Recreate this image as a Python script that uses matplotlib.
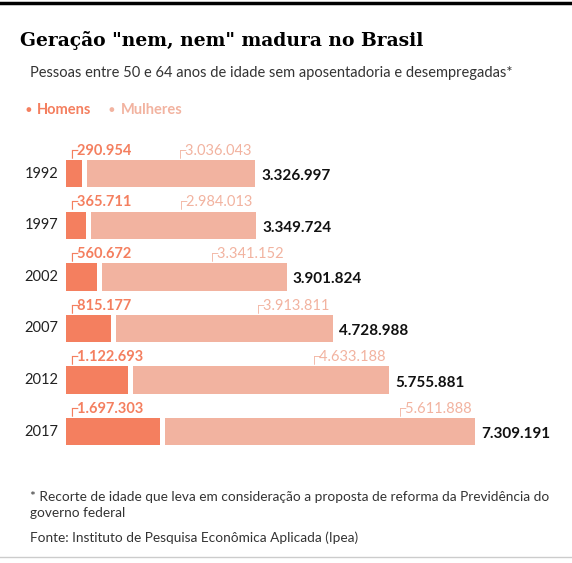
import matplotlib.pyplot as plt

plt.rcParams['font.family'] = ['Lato', 'DejaVu Sans']

years = ["1992", "1997", "2002", "2007", "2012", "2017"]
homens = [290954, 365711, 560672, 815177, 1122693, 1697303]
mulheres = [3036043, 2984013, 3341152, 3913811, 4633188, 5611888]
totais = [3326997, 3349724, 3901824, 4728988, 5755881, 7309191]

c_men = "#f47f5f"
c_women = "#f2b3a0"

def fmt(v):
    return f"{v:,}".replace(",", ".")

W, H = 572, 563
fig = plt.figure(figsize=(W / 100, H / 100), dpi=100)

# top rule
fig.add_artist(plt.Line2D([0, 1], [1 - 3 / H, 1 - 3 / H], color="black", lw=2.5))
fig.text(20 / W, 1 - 40 / H, 'Geração "nem, nem" madura no Brasil', family="DejaVu Serif",
         fontsize=13.5, fontweight="bold", va="center")
fig.text(30 / W, 1 - 73 / H, "Pessoas entre 50 e 64 anos de idade sem aposentadoria e desempregadas*",
         fontsize=10.5, color="#333333", va="center")
fig.text(25 / W, 1 - 110 / H, "●", fontsize=7, color=c_men, va="center")
fig.text(37 / W, 1 - 110 / H, "Homens", fontsize=10.5, fontweight="bold", color=c_men, va="center")
fig.text(109 / W, 1 - 110 / H, "●", fontsize=7, color=c_women, va="center")
fig.text(121 / W, 1 - 110 / H, "Mulheres", fontsize=10.5, fontweight="bold", color=c_women, va="center")

# bars axes: x from 66px, ~55 px per million
x0, x1 = 66, 572
y_top, y_bot = 135, 460
ax = fig.add_axes([x0 / W, 1 - y_bot / H, (x1 - x0) / W, (y_bot - y_top) / H])
px_per = 55.3 / 1e6
ax.set_xlim(0, (x1 - x0) / px_per)
ax.set_ylim(len(years) - 0.45, -0.75)
ax.axis("off")
gap = 5 / px_per
h = 0.53
for i, (y, m, f, t) in enumerate(zip(years, homens, mulheres, totais)):
    ax.barh(i, m, height=h, color=c_men)
    ax.barh(i, f, left=m + gap, height=h, color=c_women)
    ax.text(-8 / px_per, i, y, ha="right", va="center", fontsize=10.5, color="#222222")
    ax.text(m + f + gap + 6 / px_per, i + 0.05, fmt(t), ha="left", va="center",
            fontsize=11, fontweight="bold", color="#111111")
    ax.text(0, i - 0.45, "┌" + fmt(m), ha="left", va="center", fontsize=10.5,
            fontweight="bold", color=c_men)
    ax.text(m + f + gap - 80 / px_per, i - 0.45, "┌" + fmt(f), ha="left", va="center",
            fontsize=10.5, color=c_women)

fig.text(30 / W, 1 - 497 / H, "* Recorte de idade que leva em consideração a proposta de reforma da Previdência do",
         fontsize=9.8, color="#333333", va="center")
fig.text(30 / W, 1 - 513 / H, "governo federal", fontsize=9.8, color="#333333", va="center")
fig.text(30 / W, 1 - 538 / H, "Fonte: Instituto de Pesquisa Econômica Aplicada (Ipea)",
         fontsize=9.8, color="#333333", va="center")
fig.add_artist(plt.Line2D([0, 1], [1 - 557 / H, 1 - 557 / H], color="#cccccc", lw=1))

fig.savefig("out.png", dpi=100)
